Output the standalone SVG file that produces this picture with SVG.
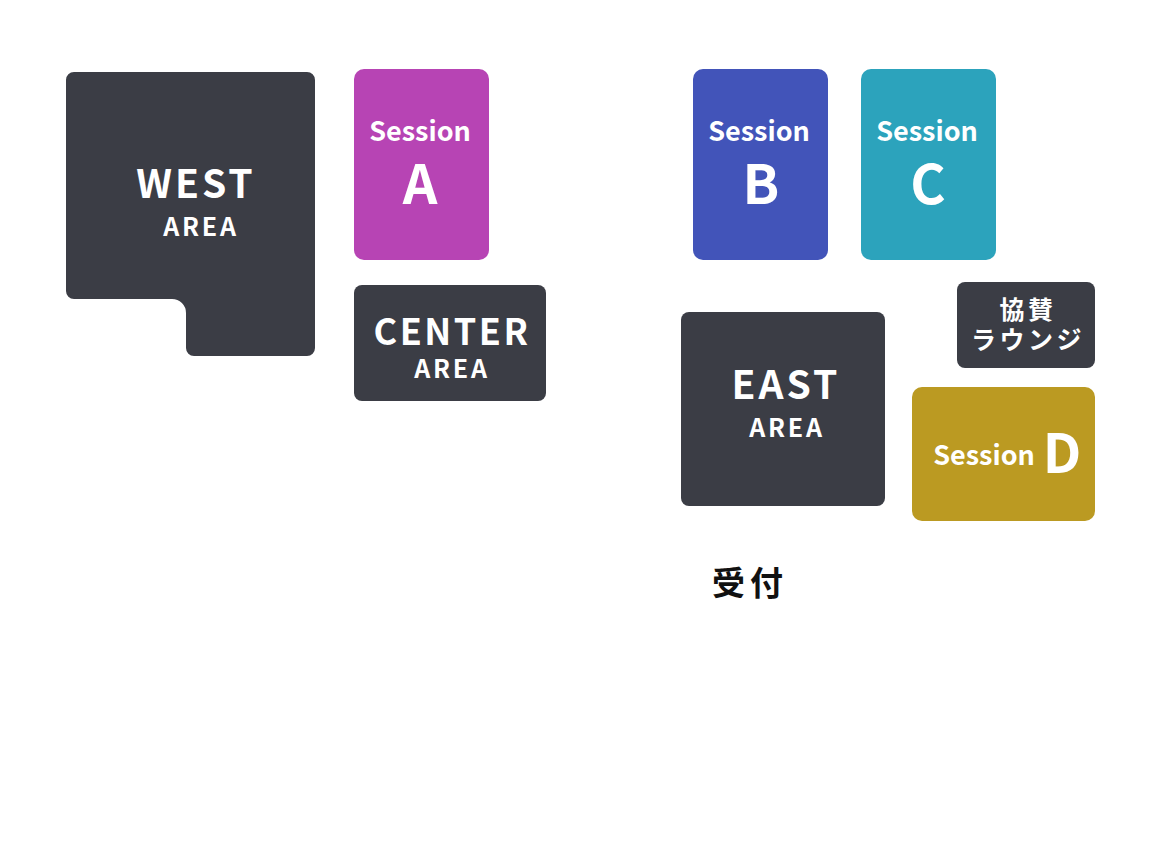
<svg xmlns="http://www.w3.org/2000/svg" width="1161" height="851" viewBox="0 0 1161 851">
<style>
.dark{fill:#3b3d45}
.t{font-family:"Noto Sans CJK JP","Noto Sans",sans-serif;font-weight:700;fill:#fff;text-anchor:middle}
.ses{font-size:27px}
.big{font-size:54px}
.area{font-size:25px;letter-spacing:2.8px}
.ttl{font-size:39px;letter-spacing:3px}
.jp{font-size:25px;letter-spacing:3.5px}
</style>
<rect width="1161" height="851" fill="#fff"/>
<g id="west">
<path class="dark" d="M74 72 H307 A8 8 0 0 1 315 80 V348 A8 8 0 0 1 307 356 H194 A8 8 0 0 1 186 348 V313 A14 14 0 0 0 172 299 H74 A8 8 0 0 1 66 291 V80 A8 8 0 0 1 74 72 Z"/>
<text class="t ttl" x="196" y="198">WEST</text>
<text class="t area" x="201" y="236">AREA</text>
</g>
<g id="sessionA">
<rect x="354" y="69" width="135" height="191" rx="10" fill="#b744b4"/>
<text class="t ses" x="420" y="141">Session</text>
<text class="t big" x="420" y="204">A</text>
</g>
<g id="center">
<rect class="dark" x="354" y="285" width="192" height="116" rx="8"/>
<text class="t ttl" x="452" y="345" style="font-size:36px;letter-spacing:2.5px">CENTER</text>
<text class="t area" x="452" y="378">AREA</text>
</g>
<g id="sessionB">
<rect x="693" y="69" width="135" height="191" rx="10" fill="#4254b9"/>
<text class="t ses" x="759" y="141">Session</text>
<text class="t big" x="761" y="204">B</text>
</g>
<g id="sessionC">
<rect x="861" y="69" width="135" height="191" rx="10" fill="#2ca3bc"/>
<text class="t ses" x="927" y="141">Session</text>
<text class="t big" x="928" y="204">C</text>
</g>
<g id="east">
<rect class="dark" x="681" y="312" width="204" height="194" rx="8"/>
<text class="t ttl" x="786" y="399">EAST</text>
<text class="t area" x="787" y="437">AREA</text>
</g>
<g id="lounge">
<rect class="dark" x="957" y="282" width="138" height="86" rx="8"/>
<text class="t jp" x="1028" y="319">協賛</text>
<text class="t jp" x="1028" y="349">ラウンジ</text>
</g>
<g id="sessionD">
<rect x="912" y="387" width="183" height="134" rx="10" fill="#bb9a22"/>
<text class="t ses" x="984" y="465">Session</text>
<text class="t big" x="1062" y="473">D</text>
</g>
<g id="reception">
<text x="750" y="595" style="font-family:'Noto Sans CJK JP',sans-serif;font-weight:700;font-size:33px;fill:#111;text-anchor:middle;letter-spacing:5px">受付</text>
</g>
<g id="connectors"></g>
</svg>
